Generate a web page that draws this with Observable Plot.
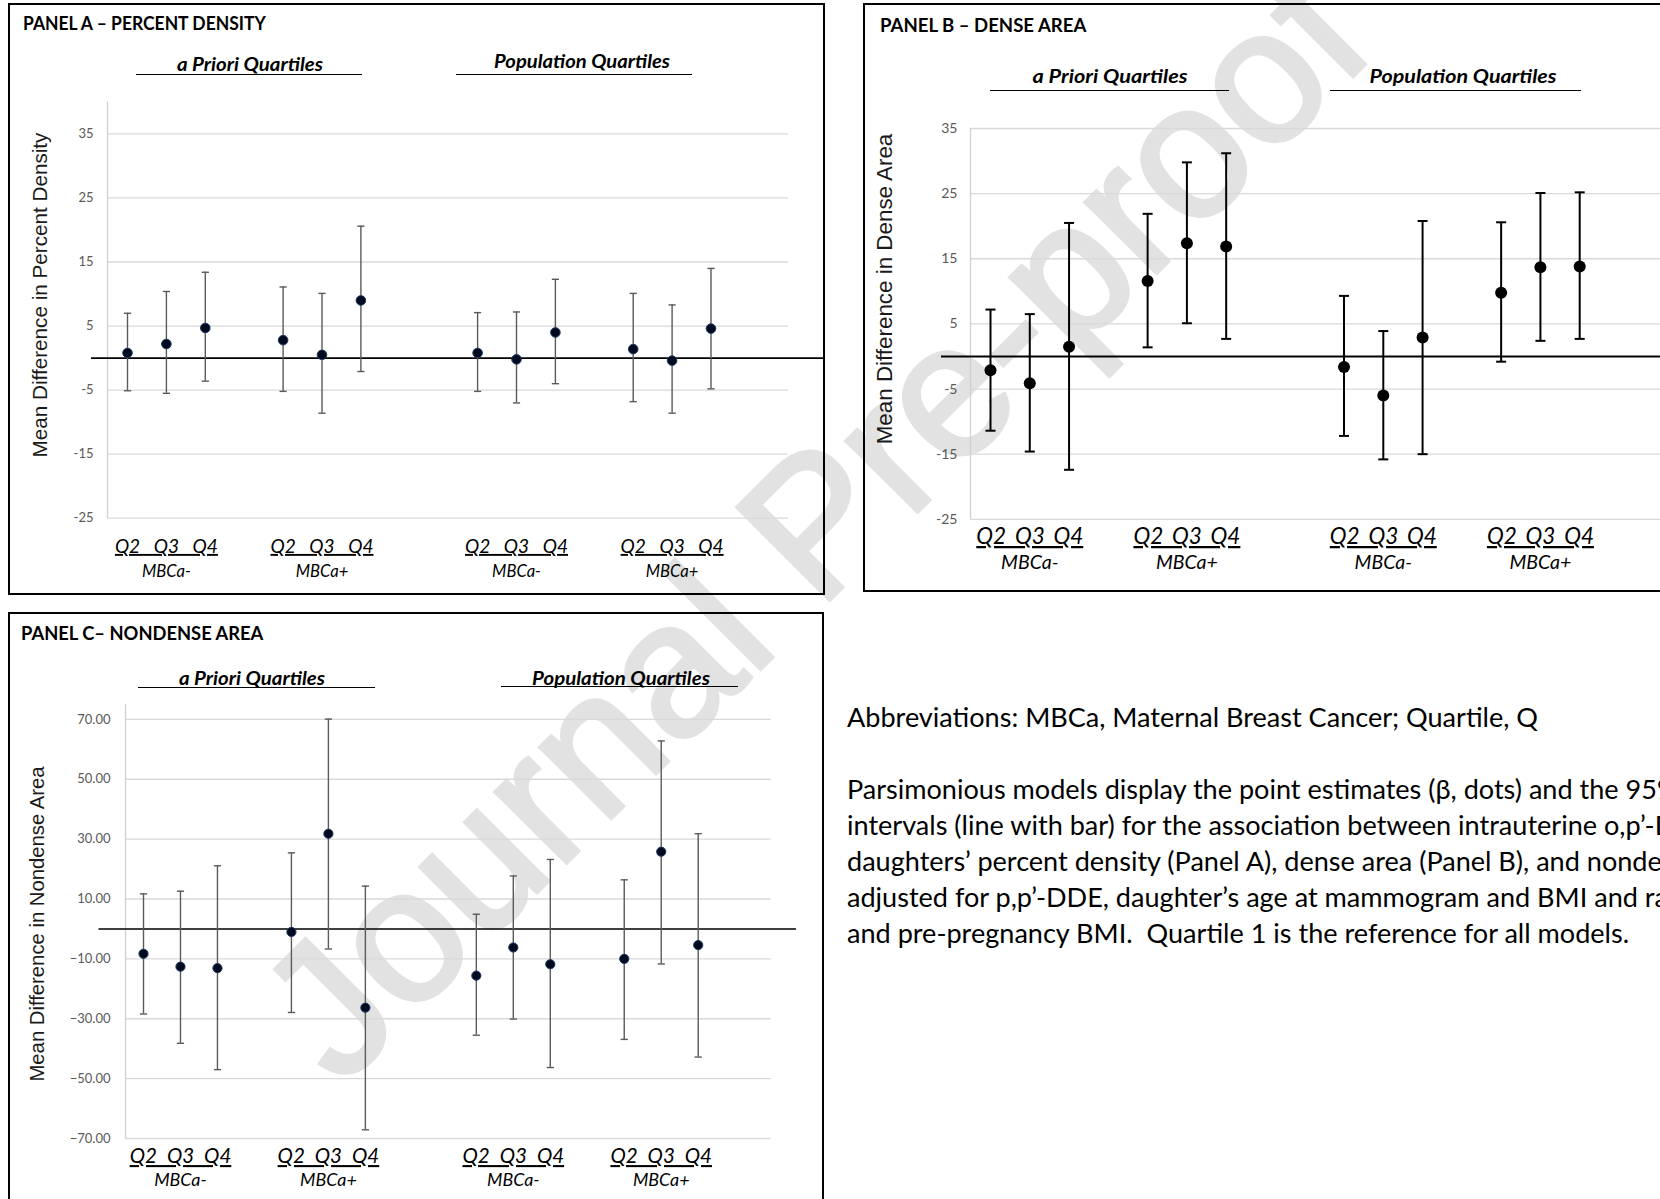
<!DOCTYPE html>
<html><head><meta charset="utf-8">
<script src="https://cdn.jsdelivr.net/npm/d3@7"></script>
<script src="https://cdn.jsdelivr.net/npm/@observablehq/plot@0.6"></script>
<style>
html,body{margin:0;padding:0;background:#fff;}
body{width:1660px;height:1199px;overflow:hidden;position:relative;font-family:Lato,sans-serif;color:#000;}
.box{position:absolute;border:2px solid #000;box-sizing:border-box;}
.ptitle{position:absolute;font-weight:700;white-space:nowrap;line-height:1;transform-origin:left center;}
.hdr{position:absolute;font-weight:700;font-style:italic;white-space:nowrap;line-height:1;transform-origin:center center;}
.hline{position:absolute;height:0;border-top:1.6px solid #000;}
.ytitle{position:absolute;font-family:"Liberation Sans",Arial,sans-serif;white-space:nowrap;line-height:1;color:#1a1a1a;transform:translate(-50%,-50%) rotate(-90deg);}
.plot{position:absolute;}
.plot svg{display:block;overflow:visible;max-width:none;}
#notes{position:absolute;left:847px;top:699px;white-space:nowrap;line-height:36px;transform-origin:left top;}
#wm{position:absolute;font-family:"Liberation Sans",Arial,sans-serif;font-size:190px;color:#e2e2e2;-webkit-text-stroke:4px #e2e2e2;white-space:nowrap;pointer-events:none;line-height:1;transform:translate(-50%,-50%) rotate(-45deg);}
</style></head><body>
<script>
// ---------------- DATA ----------------
const quartileLabels = ["Q2", "Q3", "Q4"];
const mbcaLabels = ["MBCa-", "MBCa+"];
const quartileSets = ["a Priori Quartiles", "Population Quartiles"];
const panelTitles = ["PANEL A – PERCENT DENSITY", "PANEL B – DENSE AREA", "PANEL C– NONDENSE AREA"];
const yTitles = ["Mean Difference in Percent Density", "Mean Difference in Dense Area", "Mean Difference in Nondense Area"];
const ticksA = [-25, -15, -5, 5, 15, 25, 35];
const ticksB = [-25, -15, -5, 5, 15, 25, 35];
const ticksC = [-70, -50, -30, -10, 10, 30, 50, 70];

// order: a Priori MBCa- Q2..Q4, a Priori MBCa+ Q2..Q4, Population MBCa- Q2..Q4, Population MBCa+ Q2..Q4
const pdEst  = [0.8, 2.2, 4.7, 2.8, 0.5, 9.0, 0.8, -0.2, 4.0, 1.4, -0.4, 4.6];
const pdLow  = [-5.1, -5.5, -3.6, -5.2, -8.6, -2.1, -5.2, -7.0, -4.0, -6.8, -8.6, -4.8];
const pdHigh = [7.0, 10.4, 13.4, 11.1, 10.1, 20.6, 7.1, 7.2, 12.3, 10.1, 8.3, 14.0];

const daEst  = [-2.1, -4.1, 1.5, 11.6, 17.4, 16.9, -1.6, -6.0, 2.9, 9.8, 13.7, 13.8];
const daLow  = [-11.4, -14.6, -17.4, 1.4, 5.1, 2.7, -12.2, -15.8, -15.0, -0.8, 2.4, 2.7];
const daHigh = [7.2, 6.5, 20.5, 21.9, 29.8, 31.2, 9.3, 3.9, 20.8, 20.6, 25.1, 25.2];

const ndEst  = [-8.3, -12.6, -13.1, -1.0, 31.8, -26.3, -15.6, -6.2, -11.8, -10.0, 25.8, -5.4];
const ndLow  = [-28.4, -38.2, -47.0, -27.9, -6.7, -67.1, -35.5, -30.1, -46.3, -36.9, -11.7, -42.8];
const ndHigh = [11.7, 12.6, 21.1, 25.4, 70.1, 14.3, 4.9, 17.7, 23.2, 16.4, 62.8, 31.8];

const noteLines = [
  "Abbreviations: MBCa, Maternal Breast Cancer; Quartile, Q",
  "",
  "Parsimonious models display the point estimates (\u03b2, dots) and the 95% confidence",
  "intervals (line with bar) for the association between intrauterine o,p\u2019-DDT and",
  "daughters\u2019 percent density (Panel A), dense area (Panel B), and nondense area (Panel C),",
  "adjusted for p,p\u2019-DDE, daughter\u2019s age at mammogram and BMI and race, maternal age",
  "and pre-pregnancy BMI.\u00a0 Quartile 1 is the reference for all models."
];
const watermarkText = "Journal Pre-proof";

// ---------------- HELPERS ----------------
function rows(est, lo, hi) {
  const out = []; let i = 0;
  quartileSets.forEach((set, si) => mbcaLabels.forEach((g, gi) => quartileLabels.forEach((q, qi) => {
    out.push({set, group: g, q, slot: si * 9 + gi * 4 + qi, est: est[i], lo: lo[i], hi: hi[i]}); i++;
  })));
  return out;
}
function groupRows() {
  const out = [];
  quartileSets.forEach((set, si) => mbcaLabels.forEach((g, gi) => out.push({set, group: g, slot: si * 9 + gi * 4 + 1})));
  return out;
}
const cctx = document.createElement("canvas").getContext("2d");
function measure(text, font) { cctx.font = font; return cctx.measureText(text).width; }
function fit(text, style, family, target) { return 100 * target / measure(text, `${style} 100px ${family}`); }
const LATO_CAP = 0.7165;
function capFit(el, text, style, family, capPx, widthPx, baseTransform) {
  const size = capPx / LATO_CAP;
  const w = measure(text, `${style} ${size}px ${family}`);
  el.style.fontSize = size + "px";
  el.style.transform = `${baseTransform} scaleX(${widthPx / w})`;
}
function div(cls, css, text) {
  const d = document.createElement("div");
  if (cls) d.className = cls;
  Object.assign(d.style, css);
  if (text != null) d.textContent = text;
  document.body.appendChild(d);
  return d;
}
const capSym = {draw(context, size) { const w = Math.sqrt(size / Math.PI); context.moveTo(-w, 0); context.lineTo(w, 0); }};

// watermark first (drawn behind everything)
const wm = div(null, {left: "813px", top: "523px"}, watermarkText);
wm.id = "wm";

// ---------------- PANEL LAYOUT ----------------
const panels = [
  {est: pdEst, lo: pdLow, hi: pdHigh, ticks: ticksA, fmt: d => String(d),
   box: {l: 8, t: 3, w: 817, h: 592}, title: {x: 23, y: 22.5, w: 245, cap: 13.3},
   hdr: [{cx: 250, cy: 63.5, w: 146, ul: [135.5, 362, 74]}, {cx: 582, cy: 60.5, w: 176, ul: [456, 692, 74]}], hcap: 13.4,
   yt: {cx: 40, cy: 295, w: 325},
   svg: {l: 10, t: 90, w: 814, h: 500}, frame: {l: 107, r: 787.7, t: 101.4, b: 517.7},
   slot0: 127, step: 38.9, ydom: [-25, 40],
   zero: {x1: 91, x2: 824, w: 1.6}, tickPad: 14, tickFs: 13,
   qdy: 28.6, gdy: 53, qW: 103, gCap: 11.9,
   dot: {r: 4.8, fill: "#000a1e", stroke: "#1f3864"}, bar: {stroke: "#5a5a5a", w: 1.4, cap: 3.6}},
  {est: daEst, lo: daLow, hi: daHigh, ticks: ticksB, fmt: d => String(d),
   box: {l: 863, t: 3, w: 820, h: 589}, title: {x: 880, y: 24.5, w: 207.5, cap: 13.8},
   hdr: [{cx: 1109.5, cy: 76.2, w: 155, ul: [990, 1229, 90]}, {cx: 1463, cy: 76.2, w: 187, ul: [1330, 1581, 90]}], hcap: 14.2,
   yt: {cx: 885, cy: 288.5, w: 312},
   svg: {l: 866, t: 110, w: 830, h: 470}, frame: {l: 970, r: 1696, t: 128, b: 518.8},
   slot0: 990, step: 39.28, ydom: [-25, 35],
   zero: {x1: 941, x2: 1696, w: 2}, tickPad: 13, tickFs: 14,
   qdy: 17.5, gdy: 43.5, qW: 107, gCap: 14.0,
   dot: {r: 6, fill: "#000", stroke: "none"}, bar: {stroke: "#000", w: 2, cap: 5}},
  {est: ndEst, lo: ndLow, hi: ndHigh, ticks: ticksC, fmt: d3.format(".2f"),
   box: {l: 8, t: 612, w: 816, h: 600}, title: {x: 21, y: 633, w: 243.5, cap: 13.7},
   hdr: [{cx: 252, cy: 677.6, w: 146, ul: [137.6, 374.8, 687]}, {cx: 621, cy: 677.6, w: 178, ul: [500.8, 738, 686]}], hcap: 13.4,
   yt: {cx: 37, cy: 923.7, w: 316.5},
   svg: {l: 10, t: 690, w: 814, h: 509}, frame: {l: 125, r: 770.7, t: 703.9, b: 1138},
   slot0: 143, step: 36.98, ydom: [-70, 75],
   zero: {x1: 98.5, x2: 796, w: 1.4}, tickPad: 15, tickFs: 13,
   qdy: 18, gdy: 41.4, qW: 101.6, gCap: 12.8,
   dot: {r: 4.6, fill: "#000a1e", stroke: "#1f3864"}, bar: {stroke: "#5a5a5a", w: 1.4, cap: 3.6}}
];

panels.forEach((p, pi) => {
  div("box", {left: p.box.l + "px", top: p.box.t + "px", width: p.box.w + "px", height: p.box.h + "px"});
  const t = div("ptitle", {left: p.title.x + "px", top: p.title.y + "px"}, panelTitles[pi]);
  capFit(t, panelTitles[pi], "bold", "Lato", p.title.cap, p.title.w, "translateY(-50%)");
  p.hdr.forEach((h, hi) => {
    const hd = div("hdr", {left: h.cx + "px", top: h.cy + "px"}, quartileSets[hi]);
    capFit(hd, quartileSets[hi], "italic bold", "Lato", p.hcap, h.w, "translate(-50%,-50%)");
    div("hline", {left: h.ul[0] + "px", top: h.ul[2] + "px", width: (h.ul[1] - h.ul[0]) + "px"});
  });
  div("ytitle", {left: p.yt.cx + "px", top: p.yt.cy + "px",
    fontSize: fit(yTitles[pi], "", '"Liberation Sans"', p.yt.w) + "px"}, yTitles[pi]);

  const data = rows(p.est, p.lo, p.hi);
  const groups = groupRows();
  const xdom = [(p.frame.l - p.slot0) / p.step, (p.frame.r - p.slot0) / p.step];
  const gSize = p.gCap / LATO_CAP;
  const qSize = gSize * 1.15;
  const qText = quartileLabels.join(" ");
  const ws = (p.qW - measure(qText, `italic ${qSize}px Lato`)) / 2;

  const chart = Plot.plot({
    width: p.svg.w, height: p.svg.h,
    marginLeft: p.frame.l - p.svg.l, marginRight: p.svg.l + p.svg.w - p.frame.r,
    marginTop: p.frame.t - p.svg.t, marginBottom: p.svg.t + p.svg.h - p.frame.b,
    x: {type: "linear", domain: xdom, axis: null},
    y: {type: "linear", domain: p.ydom},
    style: {background: "transparent", fontFamily: "Lato", color: "#595959", overflow: "visible"},
    marks: [
      Plot.gridY({ticks: p.ticks, stroke: "#d9d9d9", strokeOpacity: 1, strokeWidth: 1.3}),
      Plot.ruleX([xdom[0]], {stroke: "#d0d0d0", strokeWidth: 1.3}),
      Plot.ruleY([0], {stroke: "#000", strokeWidth: p.zero.w,
        insetLeft: -(p.frame.l - p.zero.x1), insetRight: -(p.zero.x2 - p.frame.r)}),
      Plot.ruleX(data, {x: "slot", y1: "lo", y2: "hi", stroke: p.bar.stroke, strokeWidth: p.bar.w}),
      Plot.dot(data, {x: "slot", y: "hi", symbol: capSym, r: p.bar.cap, stroke: p.bar.stroke, strokeWidth: p.bar.w, fill: "none"}),
      Plot.dot(data, {x: "slot", y: "lo", symbol: capSym, r: p.bar.cap, stroke: p.bar.stroke, strokeWidth: p.bar.w, fill: "none"}),
      Plot.dot(data, {x: "slot", y: "est", r: p.dot.r, fill: p.dot.fill, stroke: p.dot.stroke, strokeWidth: 1}),
      Plot.axisY({ticks: p.ticks, tickSize: 0, tickPadding: p.tickPad, tickFormat: p.fmt, fontSize: p.tickFs, label: null}),
      Plot.text(groups, {x: "slot", text: () => qText, frameAnchor: "bottom", lineAnchor: "middle", dy: p.qdy,
        fontSize: qSize, fontStyle: "italic", fill: "#000"}),
      Plot.text(groups, {x: "slot", text: "group", frameAnchor: "bottom", lineAnchor: "middle", dy: p.gdy,
        fontSize: gSize, fontStyle: "italic", fill: "#000"})
    ]
  });
  chart.querySelectorAll("text").forEach(t => {
    if (t.textContent === qText) {
      t.style.textDecoration = "underline";
      t.style.wordSpacing = ws + "px";
    }
  });
  const wrap = div("plot", {left: p.svg.l + "px", top: p.svg.t + "px", width: p.svg.w + "px", height: p.svg.h + "px"});
  wrap.appendChild(chart);
});

// notes
const notes = div(null, {});
notes.id = "notes";
const noteSize = 19 / LATO_CAP;
notes.style.fontSize = noteSize + "px";
notes.style.transform = `scaleX(${691 / measure(noteLines[0], `${noteSize}px Lato`)})`;
noteLines.forEach(line => {
  const d = document.createElement("div");
  d.textContent = line || "\u00a0";
  notes.appendChild(d);
});
</script>
</body></html>
